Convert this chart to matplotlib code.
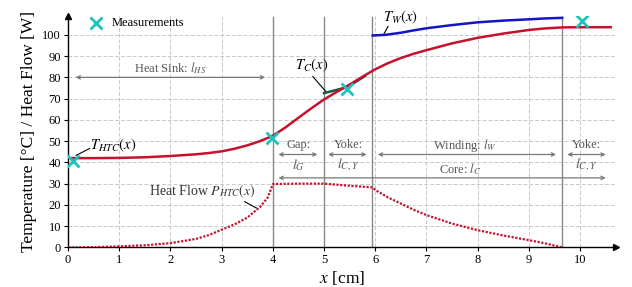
import matplotlib
matplotlib.use("Agg")
import matplotlib.pyplot as plt
import numpy as np

plt.rcParams['font.family'] = ['Liberation Serif', 'DejaVu Serif']
plt.rcParams['mathtext.fontset'] = 'stix'

# ---- data ----
x_htc = [0, 0.5, 1, 1.5, 2, 2.5, 2.75, 3, 3.25, 3.5, 3.75, 4, 4.25, 4.5, 4.75, 5, 5.25, 5.5, 5.75, 6,
         6.25, 6.5, 6.75, 7, 7.5, 8, 8.5, 9, 9.3, 9.65, 10, 10.6]
T_htc = [42, 42, 42.1, 42.4, 43, 43.8, 44.4, 45.2, 46.4, 48, 50, 52.5, 56.5, 61, 65.4, 69.6, 73.2, 76.6, 80.3, 83.8,
         86.7, 89.1, 91.1, 92.8, 96, 98.6, 100.6, 102.3, 103.0, 103.5, 103.6, 103.6]

x_tc = [5.0, 5.2, 5.4, 5.6, 5.8]
T_tc = [72.6, 73.8, 75.1, 77.6, 80.6]

x_tw = [5.95, 6.2, 6.5, 6.75, 7, 7.5, 8, 8.5, 9, 9.3, 9.65]
T_tw = [99.7, 100.0, 101.0, 102.1, 103.1, 104.6, 105.9, 106.7, 107.3, 107.7, 108.0]

x_p = [0, 0.5, 1, 1.5, 2, 2.5, 2.75, 3, 3.25, 3.5, 3.75, 3.9, 3.95, 4.0, 4.5, 5.0, 5.5, 5.95, 6.0,
       6.25, 6.5, 6.75, 7, 7.5, 8, 8.5, 9, 9.3, 9.65]
P_htc = [0, 0.1, 0.5, 1.0, 2.0, 4.0, 5.8, 8.3, 10.8, 14, 19, 23.5, 26.5, 29.8, 30, 30, 29, 28.2, 27,
         23.5, 20.6, 17.7, 15.2, 11.2, 8.1, 5.6, 3.4, 2.0, 0]

x_meas = [0.1, 3.98, 5.45, 10.03]
T_meas = [40.7, 51.6, 74.6, 106.4]

boundaries = [4.0, 4.99, 5.94, 9.65]
xticks = list(range(0, 11))
yticks = list(range(0, 101, 10))

red = '#c4122f'
blue = '#1414c8'
cyan = '#1cc4c0'
gray = '#555555'

fig = plt.figure(figsize=(6.32, 2.87), dpi=100)
ax = fig.add_axes([0.1076, 0.138, 0.867, 0.805])
ax.set_xlim(0, 10.7)
ax.set_ylim(0, 108.7)

# grid
for xv in xticks:
    ax.axvline(xv, color='#c8c8c8', lw=0.7, ls=(0, (4, 2)), zorder=0)
for yv in yticks:
    ax.axhline(yv, color='#c8c8c8', lw=0.7, ls=(0, (4, 2)), zorder=0)

for b in boundaries:
    ax.axvline(b, ymax=108.2 / 108.7, color='#888888', lw=1.0, zorder=1)

# curves
ax.plot(x_p, P_htc, color=red, lw=1.6, ls=(0, (1, 0.7)), zorder=3)
ax.plot(x_tc, T_tc, color='#1a5a40', lw=1.8, zorder=3)
ax.plot(x_htc, T_htc, color=red, lw=1.8, zorder=4, solid_joinstyle='round')
ax.plot(x_tw, T_tw, color=blue, lw=1.8, zorder=4, solid_joinstyle='round')
ax.plot(x_meas, T_meas, ls='none', marker='x', color=cyan, ms=8, mew=2, zorder=5)

# legend-like marker
ax.plot([0.55], [105.8], ls='none', marker='x', color=cyan, ms=8, mew=2, clip_on=False)
ax.text(0.86, 105.8, 'Measurements', fontsize=9, va='center', ha='left')

# spines / axes
for s in ['top', 'right']:
    ax.spines[s].set_visible(False)
ax.spines['left'].set_linewidth(1.0)
ax.spines['bottom'].set_linewidth(1.0)
ax.plot(1, 0, '>k', ms=4, transform=ax.get_yaxis_transform(), clip_on=False)
ax.plot(0, 1, '^k', ms=4, transform=ax.get_xaxis_transform(), clip_on=False)
ax.set_xticks(xticks)
ax.set_yticks(yticks)
ax.tick_params(labelsize=9, length=3, width=0.8, pad=2)
ax.set_xlabel('$x$ [cm]', fontsize=12.5, labelpad=2)
ax.set_ylabel('Temperature [°C] / Heat Flow [W]', fontsize=12.5, labelpad=4)

# dimension arrows
def dim(x0, x1, y):
    ax.annotate('', xy=(x0, y), xytext=(x1, y),
                arrowprops=dict(arrowstyle='<->', color='#777777', lw=0.9,
                                shrinkA=0, shrinkB=0, mutation_scale=6))

fs = 9
fm = 10
dim(0.15, 3.85, 80)
ax.text(2.0, 84.5, 'Heat Sink: $l_{HS}$', fontsize=fs, color=gray, ha='center', va='center')
dim(4.11, 4.87, 43.7)
ax.text(4.5, 48, 'Gap:', fontsize=fs, color=gray, ha='center', va='center')
ax.text(4.5, 38.8, '$l_G$', fontsize=fm, color=gray, ha='center', va='center')
dim(5.08, 5.83, 43.7)
ax.text(5.47, 48, 'Yoke:', fontsize=fs, color=gray, ha='center', va='center')
ax.text(5.47, 38.8, '$l_{C,Y}$', fontsize=fm, color=gray, ha='center', va='center')
dim(6.05, 9.53, 43.7)
ax.text(7.75, 48, 'Winding: $l_W$', fontsize=fs, color=gray, ha='center', va='center')
dim(9.75, 10.5, 43.7)
ax.text(10.12, 48, 'Yoke:', fontsize=fs, color=gray, ha='center', va='center')
ax.text(10.12, 38.8, '$l_{C,Y}$', fontsize=fm, color=gray, ha='center', va='center')
dim(4.11, 10.5, 32.7)
ax.text(7.65, 36.8, 'Core: $l_C$', fontsize=fs, color=gray, ha='center', va='center')

# curve labels with leaders
ax.plot([0.16, 0.42], [43.3, 46.5], color='k', lw=0.8)
ax.text(0.42, 48, '$T_{HTC}(x)$', fontsize=10.5, ha='left', va='center')
ax.plot([4.78, 5.04], [80.4, 73.2], color='k', lw=0.8)
ax.text(4.75, 85.8, '$T_C(x)$', fontsize=10.5, ha='center', va='center')
ax.plot([6.16, 6.25], [100, 104], color='k', lw=0.8)
ax.text(6.5, 108.3, '$T_W(x)$', fontsize=10.5, ha='center', va='center', clip_on=False)
ax.plot([3.45, 3.68], [21.5, 18.5], color='k', lw=0.8)
ax.text(2.63, 26.3, 'Heat Flow $P_{HTC}(x)$', fontsize=10, color='#333333', ha='center', va='center')

fig.savefig('out.png', dpi=100)
